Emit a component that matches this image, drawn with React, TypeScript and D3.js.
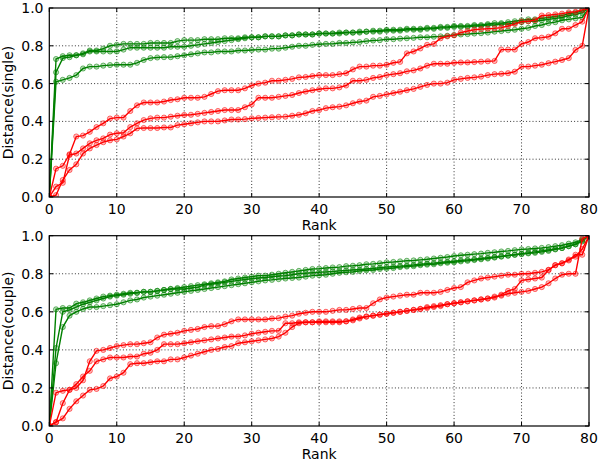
import React from 'react';
import * as d3 from 'd3';

// Rank axis / distance axis ticks
const xTicks = [0, 10, 20, 30, 40, 50, 60, 70, 80];
const yTicks = [0, 0.2, 0.4, 0.6, 0.8, 1.0];

// ---- single ----
const singleGreenA = [0, 0.73, 0.745, 0.75, 0.75, 0.76, 0.775, 0.775, 0.785, 0.8, 0.805,
  0.81, 0.81, 0.81, 0.81, 0.815, 0.815, 0.815, 0.815, 0.825, 0.83,
  0.83, 0.83, 0.835, 0.835, 0.835, 0.84, 0.84, 0.84, 0.845, 0.845,
  0.845, 0.85, 0.85, 0.85, 0.855, 0.855, 0.86, 0.86, 0.86, 0.865,
  0.865, 0.865, 0.87, 0.87, 0.87, 0.875, 0.875, 0.88, 0.88, 0.885,
  0.885, 0.885, 0.89, 0.89, 0.89, 0.895, 0.895, 0.9, 0.9, 0.905,
  0.905, 0.905, 0.91, 0.91, 0.915, 0.92, 0.92, 0.925, 0.93, 0.935,
  0.94, 0.94, 0.945, 0.95, 0.955, 0.96, 0.97, 0.975, 0.985, 1.0];
const singleGreenB = [0, 0.66, 0.735, 0.74, 0.75, 0.755, 0.77, 0.77, 0.77, 0.77, 0.77,
  0.78, 0.79, 0.79, 0.79, 0.79, 0.79, 0.79, 0.795, 0.795, 0.795,
  0.8, 0.805, 0.81, 0.815, 0.82, 0.825, 0.83, 0.835, 0.84, 0.845,
  0.845, 0.85, 0.85, 0.85, 0.855, 0.855, 0.86, 0.86, 0.86, 0.865,
  0.865, 0.865, 0.865, 0.87, 0.87, 0.87, 0.875, 0.875, 0.875, 0.88,
  0.88, 0.88, 0.885, 0.885, 0.885, 0.89, 0.89, 0.895, 0.895, 0.9,
  0.9, 0.9, 0.905, 0.905, 0.91, 0.91, 0.915, 0.915, 0.92, 0.925,
  0.93, 0.93, 0.935, 0.94, 0.945, 0.95, 0.96, 0.965, 0.975, 1.0];
const singleGreenC = [0, 0.61, 0.62, 0.63, 0.645, 0.68, 0.69, 0.69, 0.695, 0.698, 0.7,
  0.7, 0.7, 0.71, 0.725, 0.735, 0.738, 0.74, 0.74, 0.745, 0.75,
  0.755, 0.76, 0.765, 0.765, 0.77, 0.77, 0.77, 0.775, 0.775, 0.778,
  0.78, 0.78, 0.785, 0.785, 0.79, 0.795, 0.8, 0.8, 0.805, 0.808,
  0.81, 0.81, 0.815, 0.815, 0.818, 0.82, 0.825, 0.828, 0.83, 0.835,
  0.835, 0.838, 0.84, 0.842, 0.845, 0.845, 0.848, 0.85, 0.853, 0.857,
  0.86, 0.862, 0.865, 0.867, 0.87, 0.875, 0.878, 0.882, 0.885, 0.89,
  0.895, 0.905, 0.91, 0.92, 0.925, 0.935, 0.94, 0.945, 0.95, 1.0];
const singleRedA = [0, 0.15, 0.165, 0.226, 0.32, 0.325, 0.345, 0.37, 0.39, 0.415, 0.42,
  0.42, 0.455, 0.485, 0.5, 0.5, 0.5, 0.505, 0.513, 0.517, 0.525,
  0.525, 0.525, 0.53, 0.545, 0.56, 0.565, 0.565, 0.565, 0.575, 0.59,
  0.6, 0.605, 0.615, 0.615, 0.62, 0.625, 0.633, 0.635, 0.64, 0.645,
  0.645, 0.645, 0.65, 0.655, 0.675, 0.69, 0.69, 0.695, 0.695, 0.7,
  0.71, 0.715, 0.76, 0.77, 0.786, 0.805, 0.81, 0.84, 0.85, 0.855,
  0.87, 0.878, 0.885, 0.888, 0.89, 0.892, 0.896, 0.905, 0.915, 0.928,
  0.93, 0.936, 0.96, 0.962, 0.966, 0.97, 0.977, 0.98, 0.99, 1.0];
const singleRedB = [0, 0.055, 0.075, 0.222, 0.23, 0.257, 0.284, 0.3, 0.31, 0.33, 0.337,
  0.34, 0.37, 0.39, 0.407, 0.416, 0.42, 0.42, 0.425, 0.43, 0.434,
  0.435, 0.44, 0.445, 0.45, 0.455, 0.46, 0.46, 0.46, 0.475, 0.49,
  0.525, 0.525, 0.525, 0.53, 0.535, 0.54, 0.55, 0.558, 0.565, 0.57,
  0.575, 0.575, 0.58, 0.59, 0.615, 0.615, 0.62, 0.63, 0.635, 0.645,
  0.65, 0.655, 0.665, 0.67, 0.68, 0.695, 0.705, 0.705, 0.705, 0.71,
  0.712, 0.712, 0.714, 0.716, 0.718, 0.72, 0.78, 0.78, 0.78, 0.81,
  0.82, 0.84, 0.843, 0.848, 0.866, 0.89, 0.89, 0.91, 0.928, 1.0];
const singleRedC = [0, 0.01, 0.09, 0.143, 0.173, 0.23, 0.257, 0.275, 0.29, 0.3, 0.305,
  0.32, 0.337, 0.363, 0.365, 0.365, 0.365, 0.368, 0.368, 0.38, 0.385,
  0.39, 0.395, 0.4, 0.4, 0.4, 0.405, 0.41, 0.41, 0.412, 0.416,
  0.418, 0.42, 0.422, 0.424, 0.425, 0.43, 0.435, 0.443, 0.455, 0.46,
  0.47, 0.475, 0.478, 0.485, 0.496, 0.505, 0.51, 0.53, 0.535, 0.543,
  0.55, 0.557, 0.565, 0.572, 0.583, 0.593, 0.6, 0.6, 0.605, 0.62,
  0.625, 0.63, 0.633, 0.637, 0.645, 0.65, 0.652, 0.655, 0.663, 0.69,
  0.69, 0.695, 0.7, 0.708, 0.716, 0.725, 0.735, 0.778, 0.8, 1.0];

// ---- couple ----
const coupleGreenA = [0, 0.613, 0.62, 0.62, 0.643, 0.65, 0.66, 0.67, 0.68, 0.685, 0.69,
  0.695, 0.7, 0.7, 0.705, 0.705, 0.71, 0.715, 0.72, 0.725, 0.73,
  0.735, 0.74, 0.745, 0.75, 0.755, 0.76, 0.77, 0.775, 0.78, 0.785,
  0.79, 0.79, 0.795, 0.8, 0.805, 0.81, 0.815, 0.82, 0.825, 0.827,
  0.83, 0.833, 0.835, 0.84, 0.842, 0.845, 0.85, 0.852, 0.855, 0.86,
  0.862, 0.865, 0.868, 0.87, 0.873, 0.876, 0.88, 0.884, 0.888, 0.893,
  0.897, 0.9, 0.903, 0.906, 0.91, 0.913, 0.917, 0.92, 0.924, 0.928,
  0.93, 0.933, 0.936, 0.94, 0.945, 0.95, 0.958, 0.965, 0.98, 1.0];
const coupleGreenB = [0, 0.41, 0.6, 0.61, 0.625, 0.64, 0.65, 0.66, 0.67, 0.68, 0.685,
  0.69, 0.695, 0.7, 0.705, 0.705, 0.71, 0.715, 0.72, 0.72, 0.72,
  0.725, 0.73, 0.74, 0.745, 0.75, 0.755, 0.76, 0.765, 0.77, 0.774,
  0.778, 0.78, 0.784, 0.788, 0.79, 0.795, 0.8, 0.803, 0.806, 0.808,
  0.81, 0.812, 0.815, 0.818, 0.82, 0.822, 0.825, 0.828, 0.832, 0.835,
  0.838, 0.84, 0.843, 0.846, 0.85, 0.853, 0.856, 0.86, 0.863, 0.866,
  0.87, 0.873, 0.876, 0.88, 0.884, 0.888, 0.892, 0.896, 0.9, 0.905,
  0.91, 0.915, 0.92, 0.925, 0.93, 0.935, 0.945, 0.955, 0.975, 1.0];
const coupleGreenC = [0, 0.33, 0.52, 0.58, 0.6, 0.615, 0.625, 0.625, 0.63, 0.635, 0.64,
  0.65, 0.66, 0.665, 0.675, 0.68, 0.685, 0.69, 0.695, 0.7, 0.705,
  0.71, 0.715, 0.72, 0.725, 0.73, 0.735, 0.74, 0.745, 0.75, 0.755,
  0.76, 0.765, 0.768, 0.772, 0.775, 0.778, 0.78, 0.785, 0.79, 0.792,
  0.795, 0.8, 0.805, 0.808, 0.81, 0.815, 0.818, 0.82, 0.825, 0.827,
  0.83, 0.835, 0.838, 0.84, 0.845, 0.848, 0.85, 0.855, 0.858, 0.86,
  0.865, 0.868, 0.872, 0.876, 0.88, 0.885, 0.89, 0.895, 0.9, 0.903,
  0.907, 0.91, 0.915, 0.92, 0.928, 0.935, 0.945, 0.955, 0.97, 1.0];
const coupleRedA = [0, 0.175, 0.185, 0.19, 0.2, 0.24, 0.34, 0.395, 0.4, 0.41, 0.42,
  0.425, 0.43, 0.43, 0.435, 0.44, 0.465, 0.48, 0.485, 0.49, 0.5,
  0.505, 0.51, 0.52, 0.525, 0.525, 0.535, 0.55, 0.56, 0.56, 0.56,
  0.56, 0.56, 0.565, 0.567, 0.575, 0.58, 0.59, 0.595, 0.6, 0.6,
  0.6, 0.605, 0.61, 0.61, 0.615, 0.62, 0.62, 0.645, 0.665, 0.675,
  0.68, 0.685, 0.69, 0.69, 0.7, 0.7, 0.7, 0.705, 0.715, 0.725,
  0.73, 0.755, 0.765, 0.775, 0.78, 0.785, 0.79, 0.795, 0.795, 0.8,
  0.8, 0.805, 0.81, 0.82, 0.845, 0.855, 0.875, 0.89, 0.93, 1.0];
const coupleRedB = [0, 0.02, 0.12, 0.19, 0.22, 0.26, 0.29, 0.34, 0.35, 0.36, 0.36,
  0.36, 0.365, 0.365, 0.38, 0.385, 0.4, 0.43, 0.43, 0.43, 0.435,
  0.44, 0.445, 0.45, 0.455, 0.46, 0.465, 0.47, 0.47, 0.476, 0.485,
  0.49, 0.495, 0.5, 0.5, 0.54, 0.54, 0.545, 0.545, 0.545, 0.55,
  0.55, 0.55, 0.55, 0.55, 0.56, 0.57, 0.575, 0.58, 0.585, 0.59,
  0.595, 0.6, 0.605, 0.61, 0.615, 0.625, 0.63, 0.635, 0.64, 0.645,
  0.65, 0.655, 0.66, 0.665, 0.67, 0.675, 0.69, 0.71, 0.72, 0.765,
  0.77, 0.775, 0.78, 0.82, 0.845, 0.855, 0.87, 0.9, 0.9, 1.0];
const coupleRedC = [0, 0.02, 0.04, 0.09, 0.13, 0.16, 0.19, 0.195, 0.21, 0.25, 0.26,
  0.28, 0.325, 0.33, 0.33, 0.335, 0.34, 0.34, 0.35, 0.35, 0.36,
  0.37, 0.38, 0.39, 0.4, 0.405, 0.415, 0.42, 0.435, 0.44, 0.445,
  0.45, 0.455, 0.46, 0.47, 0.49, 0.52, 0.54, 0.545, 0.545, 0.545,
  0.545, 0.545, 0.545, 0.55, 0.555, 0.565, 0.575, 0.58, 0.585, 0.59,
  0.595, 0.6, 0.605, 0.61, 0.615, 0.62, 0.625, 0.63, 0.64, 0.645,
  0.65, 0.655, 0.66, 0.665, 0.67, 0.68, 0.685, 0.695, 0.7, 0.705,
  0.71, 0.72, 0.73, 0.75, 0.775, 0.795, 0.8, 0.8, 0.985, 1.0];

const GREEN = '#008000';
const RED = '#ff0000';
const FONT = 'DejaVu Sans, sans-serif';

const LEFT = 49.3;
const RIGHT = 589;

interface PanelProps {
  id: string;
  top: number;
  bottom: number;
  ylabel: string;
  greens: number[][];
  reds: number[][];
}

const Panel: React.FC<PanelProps> = ({ id, top, bottom, ylabel, greens, reds }) => {
  const x = d3.scaleLinear().domain([0, 80]).range([LEFT, RIGHT]);
  const y = d3.scaleLinear().domain([0, 1]).range([bottom, top]);
  const line = d3.line<number>().x((_, i) => x(i)).y(d => y(d));

  const series = [
    ...greens.map(s => ({ s, c: GREEN })),
    ...reds.map(s => ({ s, c: RED })),
  ];

  return (
    <g>
      <defs>
        <clipPath id={`clip-${id}`}>
          <rect x={LEFT} y={top} width={RIGHT - LEFT} height={bottom - top} />
        </clipPath>
      </defs>
      {/* grid */}
      {xTicks.slice(1, -1).map(t => (
        <line key={`gx${t}`} x1={x(t)} x2={x(t)} y1={top} y2={bottom}
          stroke="#000" strokeWidth={0.8} strokeDasharray="1,2.2" />
      ))}
      {yTicks.slice(1, -1).map(t => (
        <line key={`gy${t}`} x1={LEFT} x2={RIGHT} y1={y(t)} y2={y(t)}
          stroke="#000" strokeWidth={0.8} strokeDasharray="1,2.2" />
      ))}
      <g clipPath={`url(#clip-${id})`}>
        {series.map(({ s, c }, k) => (
          <g key={k}>
            <path d={line(s) || ''} fill="none" stroke={c} strokeWidth={1.4} />
            {s.map((v, i) => (
              <circle key={i} cx={x(i)} cy={y(v)} r={2.6}
                fill={c} fillOpacity={0.25} stroke={c} strokeOpacity={0.6} strokeWidth={0.9} />
            ))}
          </g>
        ))}
      </g>
      {/* ticks, inward on all sides */}
      {xTicks.map(t => (
        <g key={`tx${t}`}>
          <line x1={x(t)} x2={x(t)} y1={bottom} y2={bottom - 4} stroke="#000" />
          <line x1={x(t)} x2={x(t)} y1={top} y2={top + 4} stroke="#000" />
          <text x={x(t)} y={bottom + 16.5} textAnchor="middle" fontSize={14} fontFamily={FONT}>{t}</text>
        </g>
      ))}
      {yTicks.map(t => (
        <g key={`ty${t}`}>
          <line x1={LEFT} x2={LEFT + 4} y1={y(t)} y2={y(t)} stroke="#000" />
          <line x1={RIGHT} x2={RIGHT - 4} y1={y(t)} y2={y(t)} stroke="#000" />
          <text x={43.5} y={y(t) + 5} textAnchor="end" fontSize={14} fontFamily={FONT}>{d3.format('.1f')(t)}</text>
        </g>
      ))}
      <rect x={LEFT} y={top} width={RIGHT - LEFT} height={bottom - top} fill="none" stroke="#000" strokeWidth={1.2} />
      <text x={(LEFT + RIGHT) / 2} y={bottom + 33} textAnchor="middle" fontSize={14} fontFamily={FONT}>Rank</text>
      <text transform={`translate(12.5,${(top + bottom) / 2}) rotate(-90)`} textAnchor="middle"
        fontSize={14} fontFamily={FONT}>{ylabel}</text>
    </g>
  );
};

export default function App() {
  return (
    <div style={{ position: 'fixed', left: 0, top: 0, background: '#fff' }}>
      <svg width={598} height={464} style={{ display: 'block' }}>
        <rect width={598} height={464} fill="#fff" />
        <Panel id="single" top={8} bottom={197} ylabel="Distance(single)"
          greens={[singleGreenA, singleGreenB, singleGreenC]}
          reds={[singleRedA, singleRedB, singleRedC]} />
        <Panel id="couple" top={235.7} bottom={426} ylabel="Distance(couple)"
          greens={[coupleGreenA, coupleGreenB, coupleGreenC]}
          reds={[coupleRedA, coupleRedB, coupleRedC]} />
      </svg>
    </div>
  );
}
